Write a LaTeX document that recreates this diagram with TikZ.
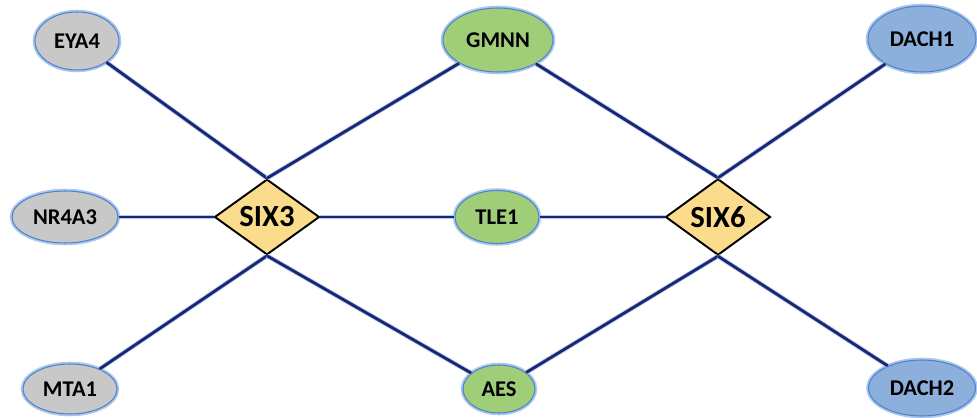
\documentclass[tikz,border=0pt]{standalone}
\usepackage{fontspec}
\setmainfont{Carlito}
\usetikzlibrary{shapes.geometric}

\definecolor{navy}{RGB}{28,38,110}
\definecolor{glowblue}{RGB}{170,200,240}
\definecolor{rimblue}{RGB}{80,130,200}
\definecolor{greyfill}{RGB}{200,200,200}
\definecolor{greenfill}{RGB}{160,205,120}
\definecolor{bluefill}{RGB}{140,175,220}
\definecolor{sixyellow}{RGB}{250,220,140}

\begin{document}
\begin{tikzpicture}[x=0.02cm, y=-0.02cm,
	gene/.style={ellipse, draw=rimblue, line width=0.6pt, inner sep=0pt,
		preaction={draw=glowblue, line width=2.6pt},
		font=\fontsize{12.8}{15}\selectfont\bfseries},
	hub/.style={diamond, draw=black, line width=1.1pt, fill=sixyellow, inner sep=0pt,
		minimum width=2.1cm, minimum height=1.4cm,
		font=\fontsize{17.5}{20}\selectfont\bfseries},
	link/.style={draw=navy, line width=1.6pt,
		preaction={draw=glowblue, line width=2.6pt}}]

%Rahmen
\useasboundingbox (0,0) rectangle (977,418);

%Knoten links
\node[gene, fill=greyfill, minimum width=1.68cm, minimum height=1.16cm] (EYA4) at (77,41) {EYA4};
\node[gene, fill=greyfill, minimum width=2.12cm, minimum height=1.04cm] (NR4A3) at (65,217) {NR4A3};
\node[gene, fill=greyfill, minimum width=1.88cm, minimum height=1.0cm] (MTA1) at (70,389) {MTA1};

%Knoten Mitte
\node[gene, fill=greenfill, minimum width=2.2cm, minimum height=1.28cm] (GMNN) at (498,40) {GMNN};
\node[gene, fill=greenfill, minimum width=1.68cm, minimum height=1.06cm] (TLE1) at (497,217) {TLE1};
\node[gene, fill=greenfill, minimum width=1.44cm, minimum height=0.96cm] (AES) at (499,389) {AES};

%Knoten rechts
\node[gene, fill=bluefill, minimum width=2.16cm, minimum height=1.32cm] (DACH1) at (922,39) {DACH1};
\node[gene, fill=bluefill, minimum width=2.14cm, minimum height=1.12cm] (DACH2) at (922,388) {DACH2};

%Rauten
\node[hub] (SIX3) at (267,217) {SIX3};
\node[hub] (SIX6) at (718,217) {SIX6};

%Verbindungen SIX3
\draw[link] (EYA4) -- (SIX3.north);
\draw[link] (GMNN) -- (SIX3.north);
\draw[link] (NR4A3) -- (SIX3.west);
\draw[link] (SIX3.east) -- (TLE1);
\draw[link] (MTA1) -- (SIX3.south);
\draw[link] (AES) -- (SIX3.south);

%Verbindungen SIX6
\draw[link] (GMNN) -- (SIX6.north);
\draw[link] (DACH1) -- (SIX6.north);
\draw[link] (TLE1) -- (SIX6.west);
\draw[link] (AES) -- (SIX6.south);
\draw[link] (DACH2) -- (SIX6.south);

\end{tikzpicture}
\end{document}
